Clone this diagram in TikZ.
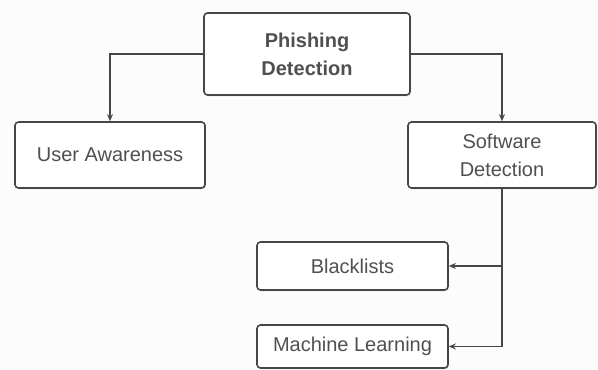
\documentclass[tikz,border=0pt]{standalone}
\usepackage{fontspec}
\setmainfont{Liberation Sans}
\usepackage{tikz}
\usetikzlibrary{arrows.meta}
\usetikzlibrary{positioning}
\usetikzlibrary{shadows}
\definecolor{BoxLine}{RGB}{70,70,70}
\definecolor{BoxText}{RGB}{80,80,80}
\definecolor{PaperWhite}{RGB}{252,252,252}

\begin{document}
\begin{tikzpicture}[x=1pt,y=1pt,
		box/.style={draw=BoxLine, line width=1.6pt, rounded corners=3.5pt, fill=white,
			text=BoxText, align=center, inner sep=0pt,
			font=\fontsize{20}{28}\selectfont,
			drop shadow={opacity=0.18, shadow xshift=1pt, shadow yshift=-1.5pt}},
		link/.style={draw=BoxLine, line width=1.6pt, -{Stealth[length=7pt,width=6pt]}}]
		\useasboundingbox [fill=PaperWhite] (0,0) rectangle (598,370);
		
		\node [box, minimum width=206pt, minimum height=82pt, font=\bfseries\fontsize{20}{28}\selectfont] (phish) at (307,316) {Phishing\\Detection};
		\node [box, minimum width=190pt, minimum height=66pt] (user) at (110,215) {User Awareness};
		\node [box, minimum width=188pt, minimum height=66pt] (soft) at (502,215) {Software\\Detection};
		\node [box, minimum width=191pt, minimum height=48pt] (black) at (352.5,104) {Blacklists};
		\node [box, minimum width=191pt, minimum height=43pt] (ml) at (352.5,23.5) {Machine Learning};
		
		\draw [link] (phish.west) -| (user.north);
		\draw [link] (phish.east) -| (soft.north);
		\draw [link] (soft.south) |- (black.east);
		\draw [link] (soft.south) |- (ml.east);
	\end{tikzpicture}
\end{document}
